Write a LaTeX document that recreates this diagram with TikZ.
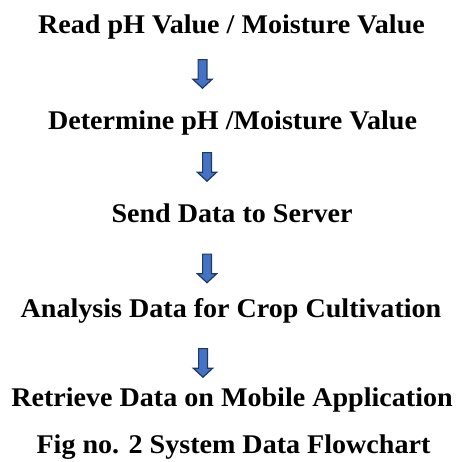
\documentclass[tikz,border=0pt]{standalone}
\usepackage{fontspec}
\setmainfont[FakeStretch=1.04]{Liberation Serif}
\definecolor{arrowfill}{HTML}{4472C4}
\definecolor{arrowedge}{HTML}{1F3864}
\tikzset{
  steptext/.style={anchor=base, inner sep=0pt, font=\fontsize{27}{32}\selectfont\bfseries},
  blockarrow/.style={draw=arrowedge, fill=arrowfill, line width=1.2pt, line join=miter}
}
% block arrow pointing down, its top centre at the named coordinate
\newcommand{\downblock}[1]{%
  \draw[blockarrow] ([shift={(-4.4,-0.6)}]#1) -- ([shift={(4.4,-0.6)}]#1)
    -- ([shift={(4.4,-20.3)}]#1) -- ([shift={(9.6,-20.3)}]#1)
    -- ([shift={(0,-29.2)}]#1) -- ([shift={(-9.6,-20.3)}]#1)
    -- ([shift={(-4.4,-20.3)}]#1) -- cycle;}
\begin{document}
\begin{tikzpicture}[x=1pt,y=1pt]
\useasboundingbox (0,0) rectangle (462,-461);
\node[steptext] (read) at (231.5,-33) {Read pH Value / Moisture Value};
\coordinate (a1) at (202.5,-59);
\downblock{a1}
\node[steptext] (det) at (232.5,-129) {Determine pH /Moisture Value};
\coordinate (a2) at (207,-152);
\downblock{a2}
\node[steptext] (send) at (232,-222) {Send Data to Server};
\coordinate (a3) at (207,-253.5);
\downblock{a3}
\node[steptext] (anal) at (231,-317) {Analysis Data for Crop Cultivation};
\coordinate (a4) at (203,-348);
\downblock{a4}
\node[steptext] (retr) at (232,-406) {Retrieve Data on Mobile Application};
\node[steptext] (cap) at (233.5,-453) {Fig no. 2 System Data Flowchart};
\end{tikzpicture}
\end{document}
